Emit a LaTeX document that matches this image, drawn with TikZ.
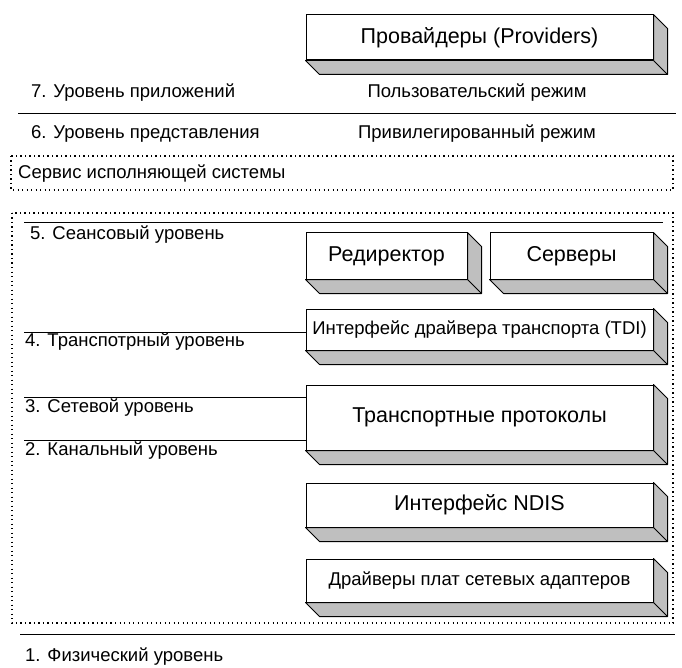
\documentclass[tikz,border=0pt]{standalone}
\usepackage{fontspec}
\setmainfont{Liberation Sans}
\usetikzlibrary{positioning}

\begin{document}
\begin{tikzpicture}[x=1pt, y=-1pt,
  box/.style={draw, fill=white, line width=1pt, inner sep=0pt, minimum width=347pt, font=\fontsize{21.5}{24}\selectfont},
  smallbox/.style={box, font=\fontsize{18.5}{22}\selectfont},
  side/.style={draw, fill=gray!50, line width=1pt, line join=round},
  lvl/.style={anchor=west, inner sep=0pt, font=\fontsize{18.5}{22}\selectfont},
  mode/.style={inner sep=0pt, font=\fontsize{18.5}{22}\selectfont},
  sep/.style={line width=1pt},
  zone/.style={line width=1.1pt, dash pattern=on 1.1pt off 3.4pt}]
  \useasboundingbox (0,0) rectangle (682,668);

  % Boxes (front faces)
  \node[box, minimum height=45pt] (prov) at (479.5,37.5) {Провайдеры (Providers)};
  \node[box, minimum width=161pt, minimum height=46pt] (redir) at (386.5,256) {Редиректор};
  \node[box, minimum width=163pt, minimum height=46pt] (serv) at (571.5,256) {Серверы};
  \node[smallbox, minimum height=41pt] (tdi) at (479.5,329.5) {Интерфейс драйвера транспорта (TDI)};
  \node[box, minimum height=65pt] (proto) at (479.5,417.5) {Транспортные протоколы};
  \node[box, minimum height=44pt] (ndis) at (479.5,505) {Интерфейс NDIS};
  \node[smallbox, minimum height=43pt] (nic) at (479.5,580.5) {Драйверы плат сетевых адаптеров};

  % Gray side and bottom faces
  \foreach \n in {prov,redir,serv,tdi,proto,ndis,nic}{
    \filldraw[side] (\n.north east) -- ++(14,14) -- ([shift={(14,14)}]\n.south east)
      -- ([shift={(14,14)}]\n.south west) -- (\n.south west) -- (\n.south east) -- cycle;
    \draw[side] (\n.south east) -- ++(14,14);
  }

  % Upper levels and modes
  \node[lvl] (l7txt) at (31,93) {7. Уровень приложений};
  \node[mode] (user) at (477,93) {Пользовательский режим};
  \draw[sep] (18,114) -- (676,114);
  \node[lvl] (l6txt) at (31,134) {6. Уровень представления};
  \node[mode] (kern) at (477,134) {Привилегированный режим};

  % Executive services
  \draw[zone] (11,156) rectangle (673,190);
  \node[lvl] (exec) at (18,174) {Сервис исполняющей системы};

  % Network components
  \draw[zone] (12,213) rectangle (673,623);
  \draw[sep] (24,223) -- (663,223);
  \node[lvl] (l5txt) at (30,235) {5. Сеансовый уровень};

  \coordinate (l4) at (24,332);
  \draw[sep] (l4) -- (l4 -| tdi.west);
  \node[lvl] (l4txt) at (25,342) {4. Транспотрный уровень};

  \coordinate (l3) at (24,397);
  \draw[sep] (l3) -- (l3 -| proto.west);
  \node[lvl] (l3txt) at (25,408) {3. Сетевой уровень};

  \coordinate (l2) at (24,440);
  \draw[sep] (l2) -- (l2 -| proto.west);
  \node[lvl] (l2txt) at (25,451) {2. Канальный уровень};

  % Physical level
  \draw[sep] (20,634) -- (675,634);
  \node[lvl] (l1txt) at (25,657) {1. Физический уровень};
\end{tikzpicture}
\end{document}
